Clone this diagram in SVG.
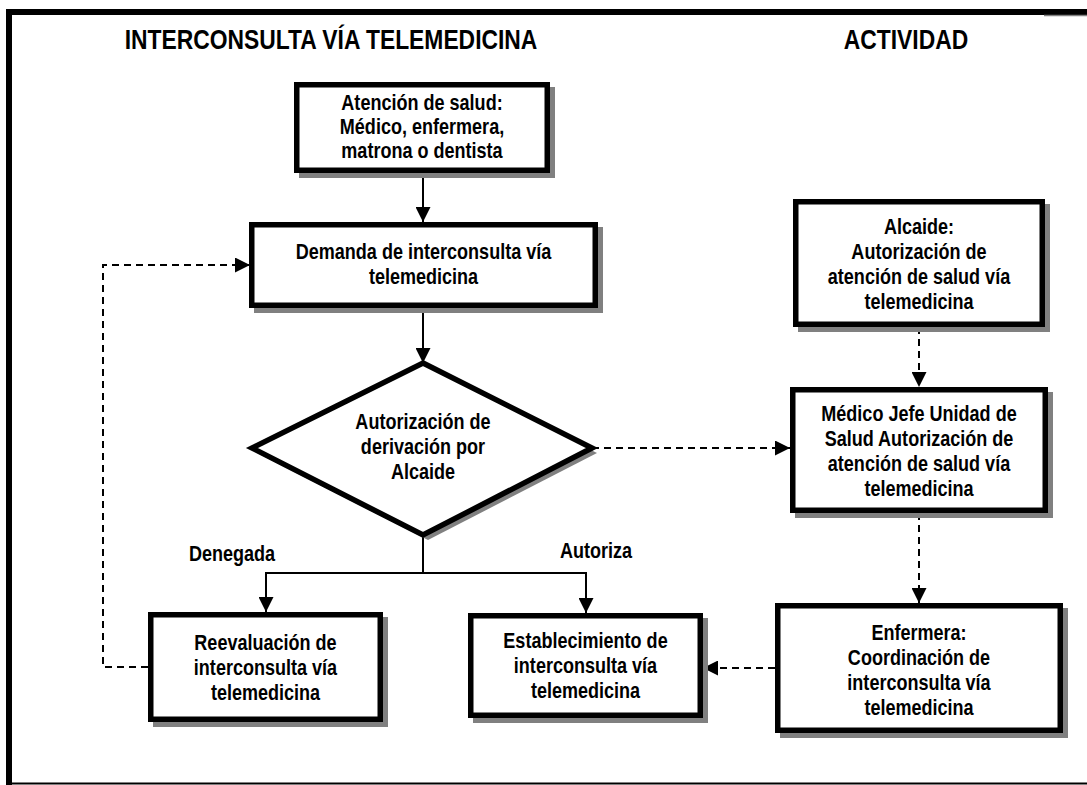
<svg xmlns="http://www.w3.org/2000/svg" width="1087" height="785" viewBox="0 0 1087 785">
<style>
  text { font-family: "Liberation Sans", Arial, sans-serif; font-weight: bold; fill: #000; text-anchor: middle; }
  .t { font-size: 22px; }
  .title { font-size: 28px; }
  .box { fill: #fff; stroke: #000; stroke-width: 5.5; }
  .shadow { fill: #808080; stroke: none; }
  .solid { fill: none; stroke: #000; stroke-width: 2; }
  .dash { fill: none; stroke: #000; stroke-width: 2; stroke-dasharray: 7 5; }
</style>
<defs>
  <marker id="ah" markerUnits="userSpaceOnUse" markerWidth="15" markerHeight="15" refX="15" refY="7.5" orient="auto">
    <path d="M0,0 L15,7.5 L0,15 Z" fill="#000"/>
  </marker>
</defs>
<rect width="1087" height="785" fill="#fff"/>
<g id="frame">
  <path d="M9,785 L9,12 L1087,12" fill="none" stroke="#000" stroke-width="6"/>
  <line x1="1044" y1="15.5" x2="1087" y2="15.5" stroke="#808080" stroke-width="1.5"/>
  <line x1="6" y1="783.5" x2="1087" y2="783.5" stroke="#000" stroke-width="2"/>
</g>
<g id="titles">
  <text class="title" transform="translate(331 49) scale(0.817 1)">INTERCONSULTA VÍA TELEMEDICINA</text>
  <text class="title" transform="translate(906 49) scale(0.817 1)">ACTIVIDAD</text>
</g>
<g id="connectors">
  <line class="solid" x1="423" y1="173" x2="423" y2="222" marker-end="url(#ah)"/>
  <line class="solid" x1="423" y1="308" x2="423" y2="363" marker-end="url(#ah)"/>
  <polyline class="solid" points="423,535 423,573 266,573 266,612" marker-end="url(#ah)"/>
  <polyline class="solid" points="423,573 586,573 586,613" marker-end="url(#ah)"/>
  <polyline class="dash" points="148,667 103,667 103,265 250,265" marker-end="url(#ah)"/>
  <line class="dash" x1="592" y1="448" x2="790" y2="448" marker-end="url(#ah)"/>
  <line class="dash" x1="919" y1="327" x2="919" y2="387" marker-end="url(#ah)"/>
  <line class="dash" x1="919" y1="513" x2="919" y2="603" marker-end="url(#ah)"/>
  <line class="dash" x1="775" y1="668" x2="703" y2="668" marker-end="url(#ah)"/>
</g>
<g id="labels">
  <text class="t" transform="translate(232 561) scale(0.82 1)">Denegada</text>
  <text class="t" transform="translate(596 558) scale(0.82 1)">Autoriza</text>
</g>
<g id="n-atencion">
  <rect class="shadow" x="299" y="87" width="256" height="91"/>
  <rect class="box" x="296.75" y="84.75" width="250.5" height="85.5"/>
  <text class="t" transform="translate(422 110) scale(0.82 1)">Atención de salud:</text>
  <text class="t" transform="translate(422 134) scale(0.82 1)">Médico, enfermera,</text>
  <text class="t" transform="translate(422 158) scale(0.82 1)">matrona o dentista</text>
</g>
<g id="n-demanda">
  <rect class="shadow" x="254" y="227" width="349" height="86"/>
  <rect class="box" x="251.75" y="224.75" width="343.5" height="80.5"/>
  <text class="t" transform="translate(423.5 259) scale(0.82 1)">Demanda de interconsulta vía</text>
  <text class="t" transform="translate(423.5 284) scale(0.82 1)">telemedicina</text>
</g>
<g id="n-decision">
  <polygon class="shadow" points="428,368 597,453 428,540 257,453"/>
  <polygon points="423,363 592,448 423,535 252,448" fill="#fff" stroke="#000" stroke-width="5.5" stroke-linejoin="miter"/>
  <text class="t" transform="translate(423 429) scale(0.82 1)">Autorización de</text>
  <text class="t" transform="translate(423 454) scale(0.82 1)">derivación por</text>
  <text class="t" transform="translate(423 479) scale(0.82 1)">Alcaide</text>
</g>
<g id="n-reevaluacion">
  <rect class="shadow" x="153" y="617" width="235" height="110"/>
  <rect class="box" x="150.75" y="614.75" width="229.5" height="104.5"/>
  <text class="t" transform="translate(265.5 650) scale(0.82 1)">Reevaluación de</text>
  <text class="t" transform="translate(265.5 675) scale(0.82 1)">interconsulta vía</text>
  <text class="t" transform="translate(265.5 700) scale(0.82 1)">telemedicina</text>
</g>
<g id="n-establecimiento">
  <rect class="shadow" x="473" y="618" width="235" height="105"/>
  <rect class="box" x="470.75" y="615.75" width="229.5" height="99.5"/>
  <text class="t" transform="translate(585.5 648) scale(0.82 1)">Establecimiento de</text>
  <text class="t" transform="translate(585.5 673) scale(0.82 1)">interconsulta vía</text>
  <text class="t" transform="translate(585.5 698) scale(0.82 1)">telemedicina</text>
</g>
<g id="n-alcaide">
  <rect class="shadow" x="798" y="204" width="252" height="128"/>
  <rect class="box" x="795.75" y="201.75" width="246.5" height="122.5"/>
  <text class="t" transform="translate(919 234) scale(0.82 1)">Alcaide:</text>
  <text class="t" transform="translate(919 259) scale(0.82 1)">Autorización de</text>
  <text class="t" transform="translate(919 284) scale(0.82 1)">atención de salud vía</text>
  <text class="t" transform="translate(919 309) scale(0.82 1)">telemedicina</text>
</g>
<g id="n-medico">
  <rect class="shadow" x="795" y="392" width="258" height="126"/>
  <rect class="box" x="792.75" y="389.75" width="252.5" height="120.5"/>
  <text class="t" transform="translate(919 421) scale(0.82 1)">Médico Jefe Unidad de</text>
  <text class="t" transform="translate(919 446) scale(0.82 1)">Salud Autorización de</text>
  <text class="t" transform="translate(919 471) scale(0.82 1)">atención de salud vía</text>
  <text class="t" transform="translate(919 496) scale(0.82 1)">telemedicina</text>
</g>
<g id="n-enfermera">
  <rect class="shadow" x="780" y="608" width="288" height="130"/>
  <rect class="box" x="777.75" y="605.75" width="282.5" height="124.5"/>
  <text class="t" transform="translate(919 640) scale(0.82 1)">Enfermera:</text>
  <text class="t" transform="translate(919 665) scale(0.82 1)">Coordinación de</text>
  <text class="t" transform="translate(919 690) scale(0.82 1)">interconsulta vía</text>
  <text class="t" transform="translate(919 715) scale(0.82 1)">telemedicina</text>
</g>
</svg>
